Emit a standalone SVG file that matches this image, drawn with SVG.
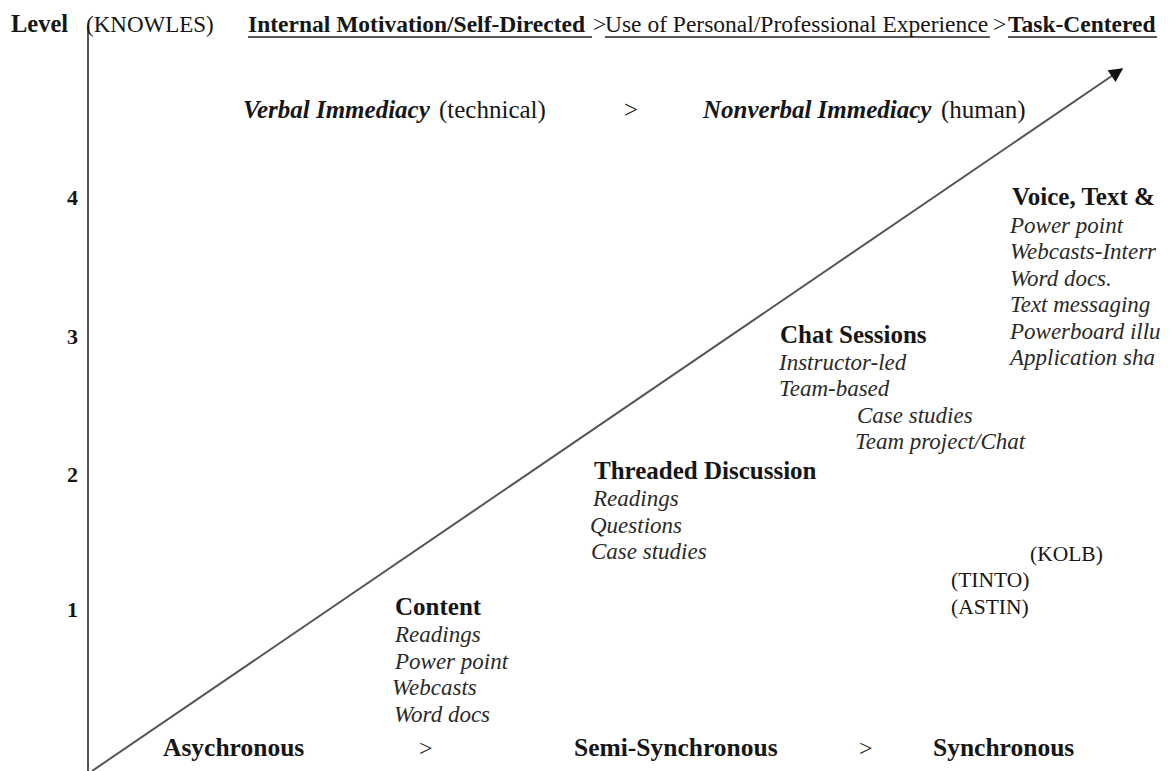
<svg xmlns="http://www.w3.org/2000/svg" width="1175" height="771" viewBox="0 0 1175 771">
  <defs>
    <style>
      text { font-family: "Liberation Serif", "Times New Roman", serif; fill: #161616; }
      .b { font-weight: bold; }
      .i { font-style: italic; }
      .bi { font-weight: bold; font-style: italic; }
      .hd { font-size: 23.5px; }
      .h { font-size: 25px; }
      .it { font-size: 23px; font-style: italic; fill: #2a2a2a; }
      .th { font-size: 21.5px; }
      .num { font-size: 22px; font-weight: bold; }
      .axis { stroke: #555; stroke-width: 2; fill: none; }
      .ul { stroke: #222; stroke-width: 1.5; }
    </style>
    <marker id="arrowHead" viewBox="0 0 10 10" refX="9" refY="5" markerWidth="8" markerHeight="7" markerUnits="strokeWidth" orient="auto">
      <path d="M0,0 L10,5 L0,10 z" fill="#111"/>
    </marker>
    <clipPath id="page">
      <rect x="0" y="0" width="1161" height="771"/>
    </clipPath>
  </defs>
  <rect width="1175" height="771" fill="#fff"/>

  <g clip-path="url(#page)">
    <!-- axes: vertical level axis and the rising diagonal -->
    <g id="connectors">
      <line class="axis" x1="88" y1="26" x2="88" y2="771"/>
      <line class="axis" x1="92" y1="771" x2="1122" y2="69" stroke="#444" marker-end="url(#arrowHead)"/>
    </g>

    <!-- header row -->
    <g id="header">
      <text class="b" x="11" y="32" font-size="24.5">Level</text>
      <text x="86" y="32" font-size="23">(KNOWLES)</text>
      <text class="b hd" x="248" y="32">Internal Motivation/Self-Directed</text>
      <line class="ul" x1="248" y1="37" x2="592" y2="37"/>
      <text class="hd" x="593" y="32">&gt;</text>
      <text class="hd" x="605" y="32">Use of Personal/Professional Experience</text>
      <line class="ul" x1="605" y1="37" x2="990" y2="37"/>
      <text class="hd" x="993" y="32">&gt;</text>
      <text class="b hd" x="1008" y="32">Task-Centered</text>
      <line class="ul" x1="1008" y1="37" x2="1157" y2="37"/>
    </g>

    <!-- immediacy row -->
    <g id="immediacy">
      <text class="bi h" x="243" y="118">Verbal Immediacy</text>
      <text class="h" x="439" y="118">(technical)</text>
      <text class="h" x="624" y="118">&gt;</text>
      <text class="bi h" x="703" y="118">Nonverbal Immediacy</text>
      <text class="h" x="941" y="118">(human)</text>
    </g>

    <!-- level numbers -->
    <g id="levels">
      <text class="num" x="67" y="205">4</text>
      <text class="num" x="67" y="344">3</text>
      <text class="num" x="67" y="482">2</text>
      <text class="num" x="67" y="617">1</text>
    </g>

    <!-- level 4: synchronous media -->
    <g id="voice-text">
      <text class="b h" x="1012" y="205">Voice, Text &amp;</text>
      <text class="it" x="1010" y="233">Power point</text>
      <text class="it" x="1010" y="259">Webcasts-Interr</text>
      <text class="it" x="1010" y="286">Word docs.</text>
      <text class="it" x="1010" y="312">Text messaging</text>
      <text class="it" x="1010" y="339">Powerboard illu</text>
      <text class="it" x="1010" y="365">Application sha</text>
    </g>

    <!-- level 3 -->
    <g id="chat-sessions">
      <text class="b h" x="780" y="343">Chat Sessions</text>
      <text class="it" x="779" y="370">Instructor-led</text>
      <text class="it" x="779" y="396">Team-based</text>
      <text class="it" x="857" y="423">Case studies</text>
      <text class="it" x="855" y="449">Team project/Chat</text>
    </g>

    <!-- level 2 -->
    <g id="threaded-discussion">
      <text class="b h" x="594" y="479">Threaded Discussion</text>
      <text class="it" x="593" y="506">Readings</text>
      <text class="it" x="590" y="533">Questions</text>
      <text class="it" x="591" y="559">Case studies</text>
    </g>

    <!-- theorists -->
    <g id="theorists">
      <text class="th" x="1030" y="561">(KOLB)</text>
      <text class="th" x="951" y="587">(TINTO)</text>
      <text class="th" x="951" y="614">(ASTIN)</text>
    </g>

    <!-- level 1 -->
    <g id="content">
      <text class="b h" x="395" y="615">Content</text>
      <text class="it" x="395" y="642">Readings</text>
      <text class="it" x="395" y="669">Power point</text>
      <text class="it" x="392" y="695">Webcasts</text>
      <text class="it" x="394" y="722">Word docs</text>
    </g>

    <!-- delivery mode row -->
    <g id="delivery">
      <text class="b" x="163" y="756" font-size="25.5">Asychronous</text>
      <text x="419" y="756" font-size="24">&gt;</text>
      <text class="b" x="574" y="756" font-size="25.5">Semi-Synchronous</text>
      <text x="859" y="756" font-size="24">&gt;</text>
      <text class="b" x="933" y="756" font-size="25.5">Synchronous</text>
    </g>
  </g>
</svg>
